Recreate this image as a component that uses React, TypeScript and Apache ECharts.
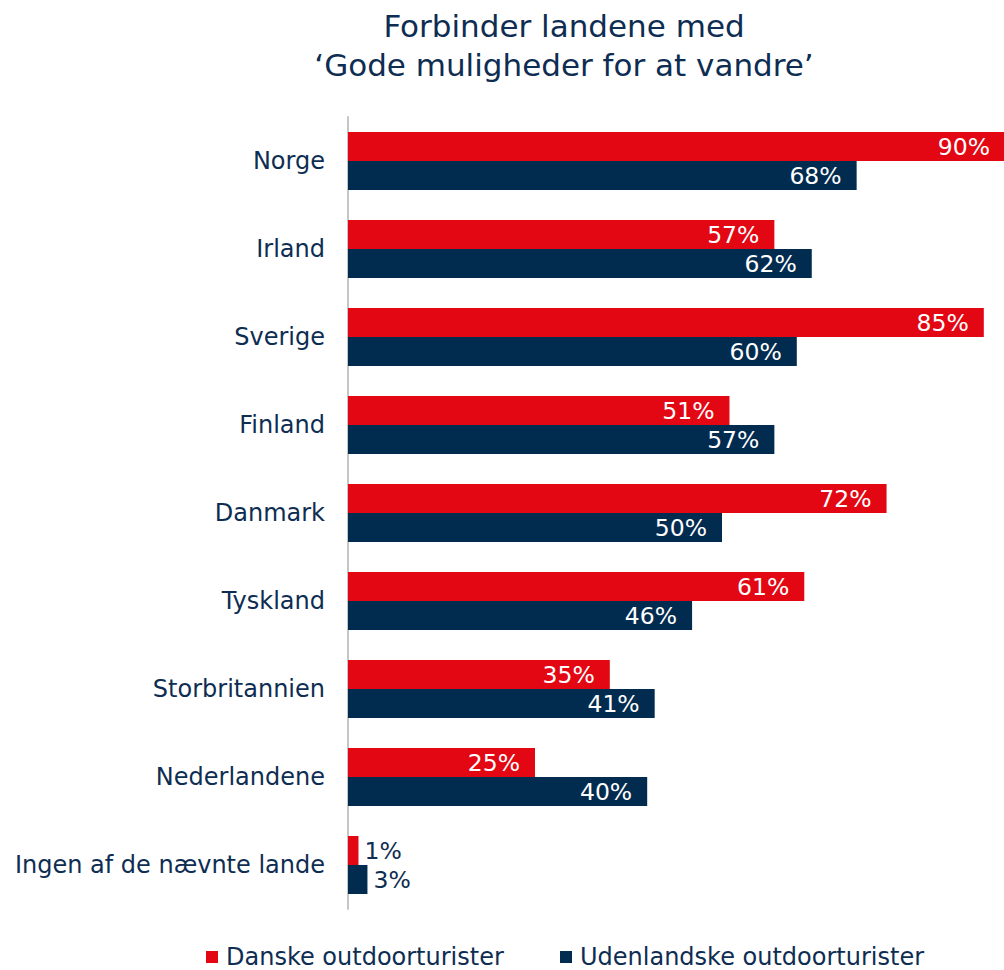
import React, { useEffect, useRef } from "react";
import * as echarts from "echarts";

const categories = [
  "Norge",
  "Irland",
  "Sverige",
  "Finland",
  "Danmark",
  "Tyskland",
  "Storbritannien",
  "Nederlandene",
  "Ingen af de nævnte lande",
];
const danishValues = [90, 57, 85, 51, 72, 61, 35, 25, 1.4];
const foreignValues = [68, 62, 60, 57, 50, 46, 41, 40, 2.6];
const seriesNames = ["Danske outdoorturister", "Udenlandske outdoorturister"];
const titleLines = ["Forbinder landene med", "‘Gode muligheder for at vandre’"];

const RED = "#e30613";
const NAVY = "#022b50";
const TEXT = "#0e2d52";
const FONT = "DejaVu Sans";
const X_MAX = 87.7;
const PX_PER_UNIT = 656 / X_MAX;

function buildData(values: number[]) {
  return values.map((v) => {
    if (v < 10) {
      return { value: v, label: { position: "right", color: TEXT, distance: 6 } };
    }
    if (v > X_MAX) {
      // keep the label of a bar running past the chart edge inside the view
      return { value: v, label: { distance: 14 + (v - X_MAX) * PX_PER_UNIT } };
    }
    return v;
  });
}

export default function App() {
  const ref = useRef<HTMLDivElement>(null);
  useEffect(() => {
    if (!ref.current) return;
    const chart = echarts.init(ref.current, undefined, { renderer: "svg" });
    const labelCfg = {
      show: true,
      position: "insideRight",
      distance: 15,
      color: "#ffffff",
      fontSize: 23.5,
      fontFamily: FONT,
      formatter: (p: any) => Math.round(p.value) + "%",
    };
    const legendText = { fontSize: 24, color: TEXT, fontFamily: FONT, padding: [0, 0, 0, 3] };
    chart.setOption({
      animation: false,
      backgroundColor: "#ffffff",
      textStyle: { fontFamily: FONT },
      graphic: [
        {
          type: "text",
          x: 564,
          y: 6,
          style: {
            text: titleLines.join("\n"),
            textAlign: "center",
            fontSize: 31,
            fontFamily: FONT,
            lineHeight: 39,
            fill: TEXT,
          },
        },
      ],
      legend: [
        {
          data: [seriesNames[0]],
          left: 206,
          top: 945,
          padding: 0,
          icon: "rect",
          itemWidth: 12,
          itemHeight: 12,
          textStyle: legendText,
        },
        {
          data: [seriesNames[1]],
          left: 560,
          top: 945,
          padding: 0,
          icon: "rect",
          itemWidth: 12,
          itemHeight: 12,
          textStyle: legendText,
        },
      ],
      grid: { left: 348, top: 117, height: 792, right: 0, containLabel: false },
      xAxis: {
        type: "value",
        min: 0,
        max: X_MAX,
        show: false,
      },
      yAxis: {
        type: "category",
        inverse: true,
        data: categories,
        axisLine: { show: true, lineStyle: { color: "#c6c6c6", width: 2 } },
        axisTick: { show: false },
        splitLine: { show: false },
        axisLabel: { margin: 23, fontSize: 24, color: TEXT, fontFamily: FONT },
      },
      series: [
        {
          name: seriesNames[0],
          type: "bar",
          data: buildData(danishValues),
          barWidth: 29,
          barGap: "0%",
          clip: false,
          itemStyle: { color: RED },
          label: labelCfg,
        },
        {
          name: seriesNames[1],
          type: "bar",
          data: buildData(foreignValues),
          barWidth: 29,
          barGap: "0%",
          clip: false,
          itemStyle: { color: NAVY },
          label: labelCfg,
        },
      ],
    });
    return () => chart.dispose();
  }, []);
  return (
    <div
      ref={ref}
      style={{ position: "fixed", left: 0, top: 0, width: 1004, height: 970 }}
    />
  );
}
